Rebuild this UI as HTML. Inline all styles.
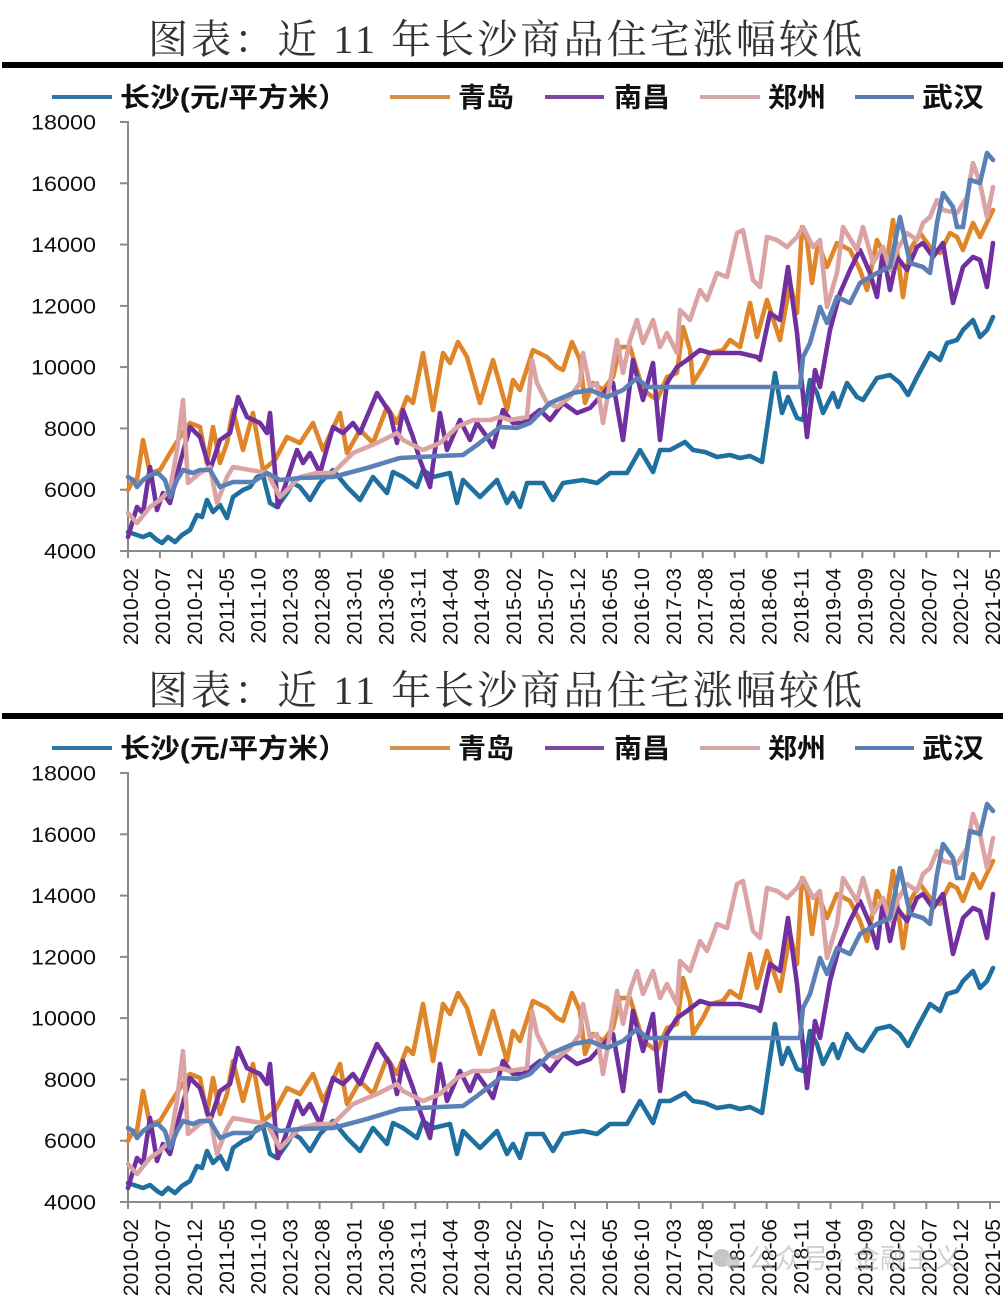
<!DOCTYPE html>
<html><head><meta charset="utf-8"><style>
html,body{margin:0;padding:0;background:#fff;}
svg{display:block;}
.t{font-family:"Liberation Serif","Noto Serif CJK SC",serif;font-size:40px;fill:#333;}
.lg{font-family:"Liberation Sans","Noto Sans CJK SC",sans-serif;font-size:27px;font-weight:bold;fill:#111;}
.yl{font-family:"Liberation Sans",sans-serif;font-size:21px;fill:#111;text-anchor:end;}
.xl{font-family:"Liberation Sans",sans-serif;font-size:21px;fill:#111;text-anchor:end;}
.s{fill:none;stroke-width:4.6;stroke-linejoin:round;stroke-linecap:round;}
</style></head><body>
<svg width="1008" height="1304" viewBox="0 0 1008 1304" xmlns="http://www.w3.org/2000/svg">
<defs>
<g id="geo">
<rect x="2" y="62" width="1001" height="6" fill="#000"/>
<line x1="52" y1="97" x2="112" y2="97" stroke="#2f78a6" stroke-width="4"/>
<line x1="390" y1="97" x2="450" y2="97" stroke="#d4904a" stroke-width="4"/>
<line x1="545" y1="97" x2="604" y2="97" stroke="#7b4aa0" stroke-width="4"/>
<line x1="700" y1="97" x2="760" y2="97" stroke="#d0a8a8" stroke-width="4"/>
<line x1="855" y1="97" x2="914" y2="97" stroke="#5b7bb0" stroke-width="4"/>
<g stroke="#8a8a8a" stroke-width="2">
<line x1="128" y1="121" x2="128" y2="552"/>
<line x1="120" y1="551" x2="1000" y2="551"/>
<line x1="120" y1="122" x2="128" y2="122"/><line x1="120" y1="183.3" x2="128" y2="183.3"/><line x1="120" y1="244.6" x2="128" y2="244.6"/><line x1="120" y1="305.9" x2="128" y2="305.9"/><line x1="120" y1="367.1" x2="128" y2="367.1"/><line x1="120" y1="428.4" x2="128" y2="428.4"/><line x1="120" y1="489.7" x2="128" y2="489.7"/>
<path d="M128 551v7M159.9 551v7M191.9 551v7M223.8 551v7M255.7 551v7M287.6 551v7M319.6 551v7M351.5 551v7M383.4 551v7M415.4 551v7M447.3 551v7M479.2 551v7M511.2 551v7M543.1 551v7M575 551v7M607 551v7M638.9 551v7M670.8 551v7M702.7 551v7M734.7 551v7M766.6 551v7M798.5 551v7M830.5 551v7M862.4 551v7M894.3 551v7M926.3 551v7M958.2 551v7M990 551v7"/>
</g>
<polyline class="s" stroke="#20709f" points="128,532 137,535 143,537 150,534 157,540 162,543 168,537 175,542 182,535 190,530 197,515 202,517 207,500 213,512 220,505 227,518 233,497 243,490 250,487 257,477 263,475 270,503 277,507 287,493 293,483 300,487 310,500 320,483 333,470 347,487 360,500 373,477 387,493 393,472 403,477 417,487 423,470 433,477 450,473 457,503 463,480 480,497 497,480 507,503 513,493 520,507 527,483 543,483 553,500 563,483 583,480 597,483 610,473 627,473 640,450 653,472 660,450 670,450 685,442 693,450 705,452 717,457 730,455 740,458 750,456 762,462 775,373 782,413 788,397 797,418 803,420 810,380 817,393 823,413 833,393 838,407 847,383 857,397 863,400 877,378 890,375 900,383 908,395 917,377 930,353 940,360 947,343 957,340 963,330 973,320 980,337 987,330 993,317"/>
<polyline class="s" stroke="#e0862a" points="128,490 133,480 137,480 143,440 150,473 160,470 170,453 180,437 190,423 200,427 207,463 213,427 220,463 227,443 233,410 243,450 253,413 263,470 275,460 287,437 300,443 313,423 323,450 340,413 347,453 360,430 373,443 387,407 397,423 407,397 413,403 423,353 433,410 443,353 450,363 458,342 467,357 480,403 493,360 507,410 513,380 520,390 533,350 547,357 557,367 563,370 572,342 580,360 585,403 593,383 603,390 613,377 620,347 630,347 643,390 657,400 667,377 677,373 683,327 690,350 693,383 703,367 710,353 723,350 730,340 740,347 750,303 757,337 767,300 780,340 790,283 797,313 802,227 807,240 812,283 818,243 827,267 837,243 850,250 860,270 867,290 877,240 887,260 893,220 903,297 910,250 920,233 930,247 940,253 950,233 957,237 963,250 973,223 980,237 993,210"/>
<polyline class="s" stroke="#7030a0" points="128,537 133,520 137,507 143,513 150,467 157,510 163,493 170,503 180,463 190,427 200,437 210,470 220,440 230,433 238,397 247,417 260,423 267,433 270,413 278,507 287,480 297,450 303,463 310,453 320,473 333,427 343,433 353,423 360,433 377,393 390,413 397,443 403,410 413,437 420,460 430,487 440,413 447,450 460,420 470,440 477,423 487,437 493,447 503,410 513,423 523,423 540,410 550,420 563,403 577,413 590,408 600,397 613,383 623,440 633,360 643,400 653,363 660,440 667,383 677,367 687,360 700,350 710,353 720,353 740,353 757,357 760,360 770,313 780,320 788,267 797,333 807,437 815,370 820,387 830,330 840,293 850,270 860,250 870,273 877,297 883,250 890,290 897,257 907,270 917,247 923,243 933,257 943,243 953,303 963,267 973,257 980,260 987,287 993,243"/>
<polyline class="s" stroke="#dba3a3" points="128,513 137,523 150,507 160,500 170,490 177,450 183,400 188,483 200,473 210,467 217,503 227,477 233,467 250,470 267,473 280,497 300,477 317,473 333,473 353,453 377,443 397,433 403,440 413,445 423,450 440,443 457,427 473,420 490,420 500,417 510,420 527,417 532,360 537,383 547,403 557,407 570,397 580,383 583,353 590,387 597,383 603,423 610,383 617,340 623,373 630,340 637,320 643,343 653,320 660,347 667,333 677,353 680,310 690,320 700,290 707,300 717,273 727,277 737,233 743,230 753,280 760,287 767,237 777,240 787,247 797,237 803,227 813,247 820,240 827,307 837,273 843,227 857,250 863,227 873,263 883,247 890,270 897,250 907,233 917,240 923,223 930,217 937,200 943,210 957,213 967,197 973,163 980,183 987,217 993,187"/>
<polyline class="s" stroke="#5b80b5" points="128,477 133,480 137,487 143,480 150,475 158,473 165,480 170,497 177,480 183,470 193,473 200,470 210,470 220,487 233,482 253,482 267,473 280,480 300,478 333,477 367,468 400,458 420,457 440,456 463,455 477,445 490,435 500,427 517,428 530,423 550,403 573,393 590,390 607,397 623,390 637,378 647,387 673,387 710,387 800,387 803,357 810,343 820,307 827,323 837,297 850,303 860,283 877,273 890,267 900,217 910,263 923,267 930,273 937,223 943,193 953,207 957,227 963,227 970,180 980,183 987,153 993,160"/>
</g>
</defs>
<use href="#geo"/>
<use href="#geo" y="651"/>

<!-- Chart 1 text -->
<text class="t" x="148" y="53" textLength="714" lengthAdjust="spacing">图表：近 11 年长沙商品住宅涨幅较低</text>
<text class="lg" x="120" y="107" textLength="228" lengthAdjust="spacingAndGlyphs">长沙(元/平方米）</text>
<text class="lg" x="458" y="107" textLength="56" lengthAdjust="spacingAndGlyphs">青岛</text>
<text class="lg" x="614" y="107" textLength="56" lengthAdjust="spacingAndGlyphs">南昌</text>
<text class="lg" x="768" y="107" textLength="58" lengthAdjust="spacingAndGlyphs">郑州</text>
<text class="lg" x="922" y="107" textLength="62" lengthAdjust="spacingAndGlyphs">武汉</text>
<g>
<text class="yl" x="96" y="129.5" textLength="65" lengthAdjust="spacingAndGlyphs">18000</text>
<text class="yl" x="96" y="190.8" textLength="65" lengthAdjust="spacingAndGlyphs">16000</text>
<text class="yl" x="96" y="252.1" textLength="65" lengthAdjust="spacingAndGlyphs">14000</text>
<text class="yl" x="96" y="313.4" textLength="65" lengthAdjust="spacingAndGlyphs">12000</text>
<text class="yl" x="96" y="374.6" textLength="65" lengthAdjust="spacingAndGlyphs">10000</text>
<text class="yl" x="96" y="435.9" textLength="52" lengthAdjust="spacingAndGlyphs">8000</text>
<text class="yl" x="96" y="497.2" textLength="52" lengthAdjust="spacingAndGlyphs">6000</text>
<text class="yl" x="96" y="558.5" textLength="52" lengthAdjust="spacingAndGlyphs">4000</text>
</g>
<g>
<text class="xl" transform="translate(138,568) rotate(-90)">2010-02</text>
<text class="xl" transform="translate(169.9,568) rotate(-90)">2010-07</text>
<text class="xl" transform="translate(201.9,568) rotate(-90)">2010-12</text>
<text class="xl" transform="translate(233.8,568) rotate(-90)">2011-05</text>
<text class="xl" transform="translate(265.7,568) rotate(-90)">2011-10</text>
<text class="xl" transform="translate(297.6,568) rotate(-90)">2012-03</text>
<text class="xl" transform="translate(329.6,568) rotate(-90)">2012-08</text>
<text class="xl" transform="translate(361.5,568) rotate(-90)">2013-01</text>
<text class="xl" transform="translate(393.4,568) rotate(-90)">2013-06</text>
<text class="xl" transform="translate(425.4,568) rotate(-90)">2013-11</text>
<text class="xl" transform="translate(457.3,568) rotate(-90)">2014-04</text>
<text class="xl" transform="translate(489.2,568) rotate(-90)">2014-09</text>
<text class="xl" transform="translate(521.2,568) rotate(-90)">2015-02</text>
<text class="xl" transform="translate(553.1,568) rotate(-90)">2015-07</text>
<text class="xl" transform="translate(585,568) rotate(-90)">2015-12</text>
<text class="xl" transform="translate(617,568) rotate(-90)">2016-05</text>
<text class="xl" transform="translate(648.9,568) rotate(-90)">2016-10</text>
<text class="xl" transform="translate(680.8,568) rotate(-90)">2017-03</text>
<text class="xl" transform="translate(712.7,568) rotate(-90)">2017-08</text>
<text class="xl" transform="translate(744.7,568) rotate(-90)">2018-01</text>
<text class="xl" transform="translate(776.6,568) rotate(-90)">2018-06</text>
<text class="xl" transform="translate(808.5,568) rotate(-90)">2018-11</text>
<text class="xl" transform="translate(840.5,568) rotate(-90)">2019-04</text>
<text class="xl" transform="translate(872.4,568) rotate(-90)">2019-09</text>
<text class="xl" transform="translate(904.3,568) rotate(-90)">2020-02</text>
<text class="xl" transform="translate(936.3,568) rotate(-90)">2020-07</text>
<text class="xl" transform="translate(968.2,568) rotate(-90)">2020-12</text>
<text class="xl" transform="translate(1000,568) rotate(-90)">2021-05</text>
</g>

<!-- Chart 2 text -->
<g transform="translate(0,651)">
<text class="t" x="148" y="53" textLength="714" lengthAdjust="spacing">图表：近 11 年长沙商品住宅涨幅较低</text>
<text class="lg" x="120" y="107" textLength="228" lengthAdjust="spacingAndGlyphs">长沙(元/平方米）</text>
<text class="lg" x="458" y="107" textLength="56" lengthAdjust="spacingAndGlyphs">青岛</text>
<text class="lg" x="614" y="107" textLength="56" lengthAdjust="spacingAndGlyphs">南昌</text>
<text class="lg" x="768" y="107" textLength="58" lengthAdjust="spacingAndGlyphs">郑州</text>
<text class="lg" x="922" y="107" textLength="62" lengthAdjust="spacingAndGlyphs">武汉</text>
<text class="yl" x="96" y="129.5" textLength="65" lengthAdjust="spacingAndGlyphs">18000</text>
<text class="yl" x="96" y="190.8" textLength="65" lengthAdjust="spacingAndGlyphs">16000</text>
<text class="yl" x="96" y="252.1" textLength="65" lengthAdjust="spacingAndGlyphs">14000</text>
<text class="yl" x="96" y="313.4" textLength="65" lengthAdjust="spacingAndGlyphs">12000</text>
<text class="yl" x="96" y="374.6" textLength="65" lengthAdjust="spacingAndGlyphs">10000</text>
<text class="yl" x="96" y="435.9" textLength="52" lengthAdjust="spacingAndGlyphs">8000</text>
<text class="yl" x="96" y="497.2" textLength="52" lengthAdjust="spacingAndGlyphs">6000</text>
<text class="yl" x="96" y="558.5" textLength="52" lengthAdjust="spacingAndGlyphs">4000</text>
<text class="xl" transform="translate(138,568) rotate(-90)">2010-02</text>
<text class="xl" transform="translate(169.9,568) rotate(-90)">2010-07</text>
<text class="xl" transform="translate(201.9,568) rotate(-90)">2010-12</text>
<text class="xl" transform="translate(233.8,568) rotate(-90)">2011-05</text>
<text class="xl" transform="translate(265.7,568) rotate(-90)">2011-10</text>
<text class="xl" transform="translate(297.6,568) rotate(-90)">2012-03</text>
<text class="xl" transform="translate(329.6,568) rotate(-90)">2012-08</text>
<text class="xl" transform="translate(361.5,568) rotate(-90)">2013-01</text>
<text class="xl" transform="translate(393.4,568) rotate(-90)">2013-06</text>
<text class="xl" transform="translate(425.4,568) rotate(-90)">2013-11</text>
<text class="xl" transform="translate(457.3,568) rotate(-90)">2014-04</text>
<text class="xl" transform="translate(489.2,568) rotate(-90)">2014-09</text>
<text class="xl" transform="translate(521.2,568) rotate(-90)">2015-02</text>
<text class="xl" transform="translate(553.1,568) rotate(-90)">2015-07</text>
<text class="xl" transform="translate(585,568) rotate(-90)">2015-12</text>
<text class="xl" transform="translate(617,568) rotate(-90)">2016-05</text>
<text class="xl" transform="translate(648.9,568) rotate(-90)">2016-10</text>
<text class="xl" transform="translate(680.8,568) rotate(-90)">2017-03</text>
<text class="xl" transform="translate(712.7,568) rotate(-90)">2017-08</text>
<text class="xl" transform="translate(744.7,568) rotate(-90)">2018-01</text>
<text class="xl" transform="translate(776.6,568) rotate(-90)">2018-06</text>
<text class="xl" transform="translate(808.5,568) rotate(-90)">2018-11</text>
<text class="xl" transform="translate(840.5,568) rotate(-90)">2019-04</text>
<text class="xl" transform="translate(872.4,568) rotate(-90)">2019-09</text>
<text class="xl" transform="translate(904.3,568) rotate(-90)">2020-02</text>
<text class="xl" transform="translate(936.3,568) rotate(-90)">2020-07</text>
<text class="xl" transform="translate(968.2,568) rotate(-90)">2020-12</text>
<text class="xl" transform="translate(1000,568) rotate(-90)">2021-05</text>
</g>

<!-- watermark -->
<g opacity="0.55">
<circle cx="722" cy="1258" r="9" fill="#999"/>
<circle cx="733" cy="1262" r="7" fill="#aaa"/>
<text x="748" y="1268" font-family="Liberation Sans, Noto Sans CJK SC, sans-serif" font-size="27" fill="#aaa">公众号 · 金融主义</text>
</g>
</svg>
</body></html>
